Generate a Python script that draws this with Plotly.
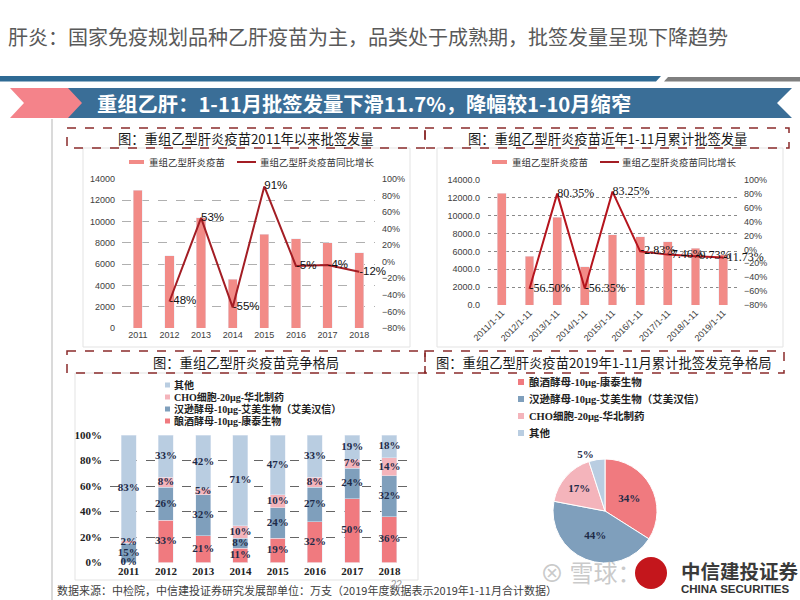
import plotly.graph_objects as go

W, H = 800, 600
def X(px): return px / W
def Y(py): return 1 - py / H

# ---------------- data ----------------
years1 = ["2011", "2012", "2013", "2014", "2015", "2016", "2017", "2018"]
batch1 = [12950, 6780, 10380, 4600, 8800, 8400, 8000, 7050]
growth1 = [None, -48, 53, -55, 91, -5, -4, -12]

periods2 = ["2011/1-11", "2012/1-11", "2013/1-11", "2014/1-11", "2015/1-11",
            "2016/1-11", "2017/1-11", "2018/1-11", "2019/1-11"]
batch2 = [12500, 5450, 9830, 4290, 7860, 7640, 7070, 6380, 5630]
growth2 = [None, -56.50, 80.35, -56.35, 83.25, -2.83, -7.46, -9.73, -11.73]

years3 = ["2011", "2012", "2013", "2014", "2015", "2016", "2017", "2018"]
share_kt = [0, 33, 21, 11, 19, 32, 50, 36]
share_am = [15, 26, 32, 8, 24, 27, 24, 32]
share_cho = [2, 8, 5, 10, 10, 8, 7, 14]
share_other = [83, 33, 42, 71, 47, 33, 19, 18]

name_kt = "酿酒酵母-10μg-康泰生物"
name_am = "汉逊酵母-10μg-艾美生物（艾美汉信）"
name_cho = "CHO细胞-20μg-华北制药"
name_other = "其他"

pie_labels = [name_kt, name_am, name_cho, name_other]
pie_values = [34, 44, 17, 5]

# ---------------- styles ----------------
C_BAR = "#f28b87"
C_LINE = "#a31d24"
C_KT = "#f07a7f"
C_AM = "#7f9fbc"
C_CHO = "#f4b4bb"
C_OTHER = "#b9cde1"
CJK = "Noto Sans CJK SC"
SERIF = "Liberation Serif, Noto Sans CJK SC"
SANS = "Liberation Sans, Noto Sans CJK SC"
LABEL_C = "#1e2b48"

fig = go.Figure()

# ---------- chart 1 ----------
fig.add_trace(go.Bar(x=years1, y=batch1, marker_color=C_BAR, width=0.29,
                     xaxis="x", yaxis="y", showlegend=False))
fig.add_trace(go.Scatter(x=years1, y=growth1, mode="lines+text",
                         line=dict(color=C_LINE, width=2),
                         text=[None if v is None else f"{v:.0f}%" for v in growth1],
                         textposition="middle right",
                         textfont=dict(family=SANS, size=11.5, color="#111"),
                         cliponaxis=False, xaxis="x", yaxis="y2", showlegend=False))

# ---------- chart 2 ----------
fig.add_trace(go.Bar(x=periods2, y=batch2, marker_color=C_BAR, width=0.32,
                     xaxis="x2", yaxis="y3", showlegend=False))
fig.add_trace(go.Scatter(x=periods2, y=growth2, mode="lines+text",
                         line=dict(color="#b5141d", width=2),
                         text=[None if v is None else f"{v:.2f}%" for v in growth2],
                         textposition="middle right",
                         textfont=dict(family=SERIF, size=12, color="#111"),
                         cliponaxis=False, xaxis="x2", yaxis="y4", showlegend=False))

# ---------- chart 3 ----------
series3 = [(share_kt, C_KT), (share_am, C_AM), (share_cho, C_CHO), (share_other, C_OTHER)]
base = [0] * len(years3)
for vals, col in series3:
    fig.add_trace(go.Bar(x=years3, y=vals, marker_color=col, width=0.4,
                         xaxis="x3", yaxis="y5", showlegend=False))
    mids = [b + v / 2 for b, v in zip(base, vals)]
    fig.add_trace(go.Scatter(x=years3, y=mids, mode="text",
                             text=[f"{v}%" for v in vals],
                             textfont=dict(family=SERIF, size=11, color=LABEL_C, weight="bold"),
                             cliponaxis=False, xaxis="x3", yaxis="y5", showlegend=False))
    base = [b + v for b, v in zip(base, vals)]

# ---------- chart 4 (pie) ----------
fig.add_trace(go.Pie(labels=pie_labels, values=pie_values, sort=False,
                     direction="clockwise", rotation=0,
                     marker=dict(colors=[C_KT, C_AM, C_CHO, C_OTHER],
                                 line=dict(color="white", width=1)),
                     texttemplate="%{value}%",
                     textposition=["inside", "inside", "inside", "outside"],
                     insidetextorientation="horizontal",
                     textfont=dict(family=SERIF, size=11, color=LABEL_C, weight="bold"),
                     domain=dict(x=[X(553), X(657)], y=[Y(564), Y(458)]),
                     showlegend=False))

tick9 = dict(family=SANS, size=9, color="#404040")
layout = dict(
    width=W, height=H, margin=dict(l=0, r=0, t=0, b=0, autoexpand=False),
    paper_bgcolor="white", plot_bgcolor="rgba(0,0,0,0)",
    barmode="stack", showlegend=False,
    xaxis=dict(domain=[X(122), X(375)], anchor="y", type="category", automargin=False,
               showgrid=False, ticks="", tickfont=tick9, showline=False),
    yaxis=dict(domain=[Y(328), Y(179)], anchor="x", range=[0, 14000], dtick=2000,
               tickformat="d", automargin=False,
               showgrid=True, gridcolor="#b0b0b0", griddash="dash", gridwidth=1,
               zeroline=False, ticks="", ticklabelstandoff=6, tickfont=tick9),
    yaxis2=dict(domain=[Y(328), Y(179)], overlaying="y", side="right", anchor="x",
                range=[-80, 100], dtick=20, ticksuffix="%", showgrid=False, automargin=False,
                zeroline=False, ticks="", ticklabelstandoff=6, tickfont=tick9),
    xaxis2=dict(domain=[X(488), X(737)], anchor="y3", type="category", automargin=False,
                showgrid=False, ticks="", tickangle=-45, tickfont=tick9),
    yaxis3=dict(domain=[Y(305), Y(180)], anchor="x2", range=[0, 14000], dtick=2000,
                tickformat=".1f", showgrid=True, gridcolor="#8a8a8a", griddash="dot",
                automargin=False,
                zeroline=False, ticks="", ticklabelstandoff=7, tickfont=tick9),
    yaxis4=dict(domain=[Y(305), Y(180)], overlaying="y3", side="right", anchor="x2",
                range=[-80, 100], dtick=20, ticksuffix="%", showgrid=False, automargin=False,
                zeroline=False, ticks="", ticklabelstandoff=6, tickfont=tick9),
    xaxis3=dict(domain=[X(110), X(408)], anchor="y5", type="category",
                showgrid=False, ticks="", automargin=False,
                tickfont=dict(family=SERIF, size=11, color="#222", weight="bold")),
    yaxis5=dict(domain=[Y(562.5), Y(435)], anchor="x3", range=[0, 100], dtick=20,
                ticksuffix="%", automargin=False,
                showgrid=True, gridcolor="#666", griddash="dash", gridwidth=1,
                zeroline=False, ticks="", ticklabelstandoff=7,
                tickfont=dict(family=SERIF, size=11, color="#222", weight="bold")),
)
fig.update_layout(**layout)

shapes = []
def path(pts):
    return "M " + " L ".join(f"{X(a):.5f},{Y(b):.5f}" for a, b in pts) + " Z"

# top lines
shapes.append(dict(type="path", xref="paper", yref="paper",
                   path=path([(0, 76), (661, 76), (656, 81.5), (0, 81.5)]),
                   fillcolor="#2e6a94", line=dict(width=0)))
shapes.append(dict(type="path", xref="paper", yref="paper",
                   path=path([(668, 77), (800, 77), (800, 81.5), (664, 81.5)]),
                   fillcolor="#7f7f7f", line=dict(width=0)))
# banner
shapes.append(dict(type="path", xref="paper", yref="paper",
                   path=path([(66, 88), (792, 88), (777, 103), (792, 118), (66, 118)]),
                   fillcolor="#3a6e97", line=dict(width=0)))
shapes.append(dict(type="path", xref="paper", yref="paper",
                   path=path([(10, 88), (68, 88), (82, 103), (68, 118), (10, 118), (24, 103)]),
                   fillcolor="#f4838a", line=dict(width=0)))
# vertical guide line
shapes.append(dict(type="line", xref="paper", yref="paper",
                   x0=X(52), x1=X(52), y0=Y(119), y1=Y(600),
                   line=dict(color="#b5b5b5", width=1)))
# faint image frames
for (a, b, c, d) in [(83, 148, 410, 347), (437, 148, 783, 347), (75, 373, 418, 580)]:
    shapes.append(dict(type="rect", xref="paper", yref="paper",
                       x0=X(a), x1=X(c), y0=Y(b), y1=Y(d),
                       line=dict(color="#e3e3e3", width=1)))
# dashed title boxes
for (a, b, c, d) in [(67, 128, 425, 148), (425, 128, 789, 148),
                     (67, 351, 425, 373), (425, 351, 784, 373)]:
    shapes.append(dict(type="rect", xref="paper", yref="paper",
                       x0=X(a), x1=X(c), y0=Y(b), y1=Y(d),
                       line=dict(color="#8a2b2b", width=1.5, dash="dash")))
# chart 1/2 legend symbols
for (bx, lx) in [(129, 237), (492, 600)]:
    shapes.append(dict(type="rect", xref="paper", yref="paper",
                       x0=X(bx), x1=X(bx + 15), y0=Y(164), y1=Y(160),
                       fillcolor=C_BAR, line=dict(width=0)))
    shapes.append(dict(type="line", xref="paper", yref="paper",
                       x0=X(lx), x1=X(lx + 19), y0=Y(162), y1=Y(162),
                       line=dict(color=C_LINE, width=2)))
# chart 3 legend squares
leg3 = [(name_other, C_OTHER, 385), (name_cho, C_CHO, 397),
        (name_am, C_AM, 409), (name_kt, C_KT, 421)]
for _, col, yy in leg3:
    shapes.append(dict(type="rect", xref="paper", yref="paper",
                       x0=X(165), x1=X(170), y0=Y(yy + 2.5), y1=Y(yy - 2.5),
                       fillcolor=col, line=dict(width=0)))
# chart 4 legend squares
leg4 = [(name_kt, C_KT, 382), (name_am, C_AM, 399), (name_cho, C_CHO, 416), (name_other, C_OTHER, 433)]
for _, col, yy in leg4:
    shapes.append(dict(type="rect", xref="paper", yref="paper",
                       x0=X(518), x1=X(524), y0=Y(yy + 3), y1=Y(yy - 3),
                       fillcolor=col, line=dict(width=0)))
# logo circle
shapes.append(dict(type="circle", xref="paper", yref="paper",
                   x0=X(635), x1=X(667), y0=Y(589), y1=Y(557),
                   fillcolor="#c4161c", line=dict(width=0)))
fig.update_layout(shapes=shapes)

ann = []
def txt(x, y, s, size, color="#222", family=CJK, xanchor="left", weight="normal"):
    ann.append(dict(xref="paper", yref="paper", x=X(x), y=Y(y), text=s, showarrow=False,
                    xanchor=xanchor, yanchor="middle",
                    font=dict(family=family, size=size, color=color, weight=weight)))

txt(6, 37, "肝炎：国家免疫规划品种乙肝疫苗为主，品类处于成熟期，批签发量呈现下降趋势", 20, "#595959")
txt(95, 103, "重组乙肝：1-11月批签发量下滑11.7%，降幅较1-10月缩窄", 20.3, "white", weight="bold")
txt(246, 138, "图：重组乙型肝炎疫苗2011年以来批签发量", 13.3, "#1a1a1a", xanchor="center")
txt(607, 138, "图：重组乙型肝炎疫苗近年1-11月累计批签发量", 13.3, "#1a1a1a", xanchor="center")
txt(246, 362, "图：重组乙型肝炎疫苗竞争格局", 13.3, "#1a1a1a", xanchor="center")
txt(604, 362, "图：重组乙型肝炎疫苗2019年1-11月累计批签发竞争格局", 13.3, "#1a1a1a", xanchor="center")
# chart 1/2 legends
txt(147, 162, "重组乙型肝炎疫苗", 9.5, "#333")
txt(258, 162, "重组乙型肝炎疫苗同比增长", 9.5, "#333")
txt(510, 162, "重组乙型肝炎疫苗", 9.5, "#333")
txt(620, 162, "重组乙型肝炎疫苗同比增长", 9.5, "#333")
for name, _, yy in leg3:
    txt(172, yy, name, 10, "#222", family=SERIF, weight="bold")
for name, _, yy in leg4:
    txt(527, yy, name, 10.5, "#222", family=SERIF, weight="bold")
# footer
txt(55, 590, "数据来源：中检院，中信建投证券研究发展部单位：万支（2019年度数据表示2019年1-11月合计数据）", 11, "#404040")
txt(389, 584, "22", 10, "#999", family=SANS)
# watermark & logo
txt(538, 571, "⊗ 雪球：", 24, "rgba(185,185,185,0.75)")
txt(679, 570, "中信建投证券", 19.5, "#3a3a3a", weight="bold")
txt(679, 589, "CHINA SECURITIES", 11.5, "#333", family=SANS, weight="bold")
fig.update_layout(annotations=ann)

fig.write_html("out.html", config={"displayModeBar": False},
               post_script="document.body.style.margin='0';document.body.style.overflow='hidden';")
